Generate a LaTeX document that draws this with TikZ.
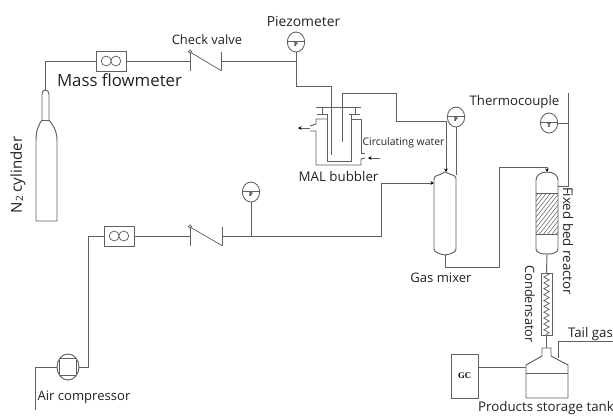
\documentclass[tikz,border=0pt]{standalone}
\usepackage{fontspec}
\setmainfont{Open Sans}
\usetikzlibrary{shapes.geometric,arrows.meta,decorations.pathmorphing}
\def\pxu{0.75pt}
\definecolor{ln}{HTML}{606060}
\definecolor{tx}{HTML}{222222}
\newfontfamily\gaugefont{Liberation Serif}[Scale=1]
\newcommand{\lowered}[1]{\raisebox{-3.6pt}[0pt][0pt]{#1}}
\tikzset{
  pipe/.style={draw=ln,line width=0.72pt},
  thin pipe/.style={draw=ln,line width=0.55pt},
  tip/.style={-{Stealth[length=2.6pt,width=2.6pt,color=black]}},
  lbl/.style={inner sep=0pt,text=tx},
  gauge/.style={shape=ellipse,draw=ln,line width=0.65pt,minimum width=13pt,minimum height=15pt,inner sep=0pt,text=black,
    font=\gaugefont\bfseries\fontsize{4.5}{5}\selectfont,
    path picture={\draw[ln,line width=0.55pt] ([yshift=0.8pt]path picture bounding box.west) -- ([yshift=0.8pt]path picture bounding box.east);}},
  meter/.style={shape=rectangle,draw=ln,line width=0.72pt,minimum width=22.5pt,minimum height=15pt,inner sep=0pt,
    path picture={\draw[ln,line width=0.55pt] ([xshift=-3.6pt]path picture bounding box.center) circle[x radius=3.7pt,y radius=3.7pt]
                  ([xshift=3.6pt]path picture bounding box.center) circle[x radius=3.7pt,y radius=3.7pt];}},
  compressor/.style={shape=ellipse,draw=ln,line width=0.72pt,minimum width=16.5pt,minimum height=19.5pt,inner sep=0pt,
    path picture={\draw[ln,line width=0.6pt] ([xshift=-6.2pt,yshift=-6.5pt]path picture bounding box.center) rectangle ([xshift=6.2pt,yshift=6.5pt]path picture bounding box.center);}},
  gcbox/.style={shape=rectangle,draw=ln,line width=0.72pt,minimum width=20.25pt,minimum height=33pt,inner sep=0pt,text=black,
    font=\gaugefont\bfseries\fontsize{6.5}{7}\selectfont},
  condbox/.style={shape=rectangle,draw=ln,line width=0.6pt,minimum width=8.25pt,minimum height=46.5pt,inner sep=0pt},
}
\begin{document}
\begin{tikzpicture}[x=\pxu,y=-\pxu]
\useasboundingbox (0,0) rectangle (613,415);

% equipment nodes
\node[meter] (fmA) at (111,61) {};
\node[meter] (fmB) at (119,236) {};
\node[gauge] (gA) at (296,42) {\lowered{P}};
\node[gauge] (gB) at (251,192) {\lowered{P}};
\node[gauge] (gC) at (456,117) {\lowered{P}};
\node[gauge] (gT) at (549,123) {\lowered{T}};
\node[compressor] (comp) at (68,367) {};
\node[gcbox] (gc) at (464.5,376) {GC};
\node[condbox] (cond) at (546.5,304) {};

% named points
\coordinate (cylTop) at (45,90);
\coordinate (cylCorner) at (45,61);
\coordinate (cvAin) at (190,61);
\coordinate (cvAout) at (221,61);
\coordinate (cvBin) at (190,236);
\coordinate (cvBout) at (222,236);
\coordinate (teeA) at (296,61);
\coordinate (teeB) at (251,236);
\coordinate (mixTop) at (445,172);
\coordinate (mixLeft) at (434,183);
\coordinate (mixBot) at (445,255);
\coordinate (mixRight) at (456,175);
\coordinate (reTop) at (547,172);
\coordinate (reBot) at (547,254);
\coordinate (reRight) at (558,186);
\coordinate (tcTop) at (568,93);
\coordinate (neckTop) at (546.5,348);
\coordinate (tankL) at (526,367);
\coordinate (tailStart) at (558,358);
\coordinate (airFree) at (35,410);

% N2 cylinder
\draw[pipe] (36,221) -- (36,140) .. controls (36,130) and (39,124) .. (42,120)
  -- (42,94) .. controls (42,91) and (44,90) .. (cylTop) .. controls (47,90) and (49,91) .. (49,94)
  -- (49,120) .. controls (52,124) and (57,130) .. (57,140) -- (57,221) -- cycle;
\draw[pipe] (42,120) -- (49,120);

% upper line
\draw[pipe] (cylTop) -- (cylCorner) -- (fmA.west);
\draw[pipe] (fmA.east) -- (cvAin);
\draw[pipe] (cvAout) -- (teeA) -- (gA.south);
\draw[pipe] (teeA) -- (296,86) -- (331,86) -- (331,155);
\draw[pipe,tip] (342,142) -- (342,93) -- (396,93) -- (396,121) -- (446,121) -- (446,172);

% check valves
\draw[pipe] (190,52) -- (190,71) (221,52) -- (221,71);
\draw[thin pipe] (190,52) -- (221,70.5);
\draw[thin pipe,fill=white] (190,51.5) circle[radius=1.6];
\draw[pipe] (190,227) -- (190,246) (222,227) -- (222,246);
\draw[thin pipe] (190,227) -- (222,245.5);
\draw[thin pipe,fill=white] (190,226.5) circle[radius=1.6];

% lower line
\draw[pipe] (airFree) -- (35,367) -- (comp.west);
\draw[pipe] (comp.east) -- (88,367) -- (88,236) -- (fmB.west);
\draw[pipe] (fmB.east) -- (cvBin);
\draw[pipe] (cvBout) -- (teeB) -- (gB.south);
\draw[pipe,tip] (teeB) -- (381,236) -- (381,183) -- (mixLeft);

% MAL bubbler
\draw[pipe] (327,115) -- (327,161) -- (351,161) -- (351,115);
\draw[pipe] (327,119) -- (316,119) -- (316,124) -- (310,126);
\draw[pipe] (310,131) -- (316,131) -- (316,165) -- (361,165) -- (361,159) -- (365,158);
\draw[pipe] (365,153) -- (361,153) -- (361,119) -- (351,119);
\draw[pipe] (316,107) -- (361,107);
\draw[pipe] (317,114) -- (328,114) (322,107) -- (322,114);
\draw[pipe] (349,114) -- (360,114) (355,107) -- (355,114);
\coordinate (jackOut) at (310,128);
\coordinate (jackOutEnd) at (298,128);
\coordinate (jackIn) at (380,158);
\coordinate (jackInEnd) at (368,158);
\draw[thin pipe,tip] (jackOut) -- (jackOutEnd);
\draw[thin pipe,tip] (jackIn) -- (jackInEnd);

% gas mixer
\draw[pipe] (434,183) -- (434,179) .. controls (434,176) and (438,175) .. (440,174.5)
  -- (mixTop) -- (451,174.5) .. controls (453,175) and (456,176) .. (456,178)
  -- (456,249) .. controls (456,252) and (451,254) .. (mixBot)
  .. controls (439,254) and (434,252) .. (434,249) -- cycle;
\draw[pipe] (gC.south) -- (mixRight);
\draw[pipe,tip] (mixBot) -- (445,267) -- (499,267) -- (499,167) -- (547,167) -- (reTop);

% reactor
\draw[pipe] (536,249) -- (536,180) .. controls (536,175) and (541,172) .. (reTop)
  .. controls (553,172) and (558,175) .. (558,180) -- (558,249)
  .. controls (558,252) and (553,254.5) .. (reBot) .. controls (541,254.5) and (536,252) .. (536,249) -- cycle;
\draw[pipe] (536,193.5) -- (558,193.5) (536,234.5) -- (558,234.5);
\begin{scope}
  \clip (536,193.5) rectangle (558,234.5);
  \foreach \k in {0,...,14}{
    \draw[ln,line width=0.4pt] (500+\k*4.2,236) -- (534+\k*4.2,193);
  }
\end{scope}
\draw[pipe] (reRight) -- (tcTop |- reRight) -- (tcTop);
\draw[pipe] (gT.east) -- (tcTop |- gT.east);

% condenser
\draw[pipe] (reBot) -- (cond.north);
\draw[pipe] (cond.south) -- (neckTop);
\draw[thin pipe,decorate,decoration={zigzag,segment length=4.4pt,amplitude=2pt}] (cond.north) -- (cond.south);

% tank
\draw[pipe] (526,398) -- (526,365) -- (542,356) -- (542,348) -- (551,348) -- (551,356) -- (568,365) -- (568,398) -- cycle;
\draw[pipe] (526,373) -- (568,373);
\draw[pipe] (tailStart) -- (558,341) -- (613,341);
\draw[pipe] (gc.east |- tankL) -- (tankL);

% labels
\node[lbl,font=\fontsize{12.6}{14}\selectfont] (tMass) at (119.5,80.5) {Mass flowmeter};
\node[lbl,font=\fontsize{9.7}{11}\selectfont] (tCheck) at (207,40) {Check valve};
\node[lbl,font=\fontsize{10.4}{12}\selectfont] (tPiezo) at (303.5,21) {Piezometer};
\node[lbl,rotate=90,font=\fontsize{11.3}{13}\selectfont] (tN) at (18,175) {N\raisebox{-1pt}{\fontsize{7.5}{9}\selectfont 2} cylinder};
\node[lbl,font=\fontsize{7.8}{9}\selectfont] (tCirc) at (403.5,142.5) {Circulating water};
\node[lbl,font=\fontsize{10}{12}\selectfont] (tMal) at (338.5,176.5) {MAL bubbler};
\node[lbl,font=\fontsize{9.8}{11}\selectfont] (tGas) at (441,278) {Gas mixer};
\node[lbl,font=\fontsize{9.9}{11}\selectfont] (tThermo) at (514.5,102) {Thermocouple};
\node[lbl,rotate=-90,font=\fontsize{10}{12}\selectfont] (tFixed) at (568,241) {Fixed bed reactor};
\node[lbl,rotate=-90,font=\fontsize{9.6}{11}\selectfont] (tCond) at (530,304) {Condensator};
\node[lbl,font=\fontsize{10}{11}\selectfont] (tTail) at (590.5,334) {Tail gas};
\node[lbl,font=\fontsize{10}{11}\selectfont] (tProd) at (546,408.5) {Products storage tank};
\node[lbl,font=\fontsize{9.8}{11}\selectfont] (tAir) at (84,397) {Air compressor};
\end{tikzpicture}
\end{document}
